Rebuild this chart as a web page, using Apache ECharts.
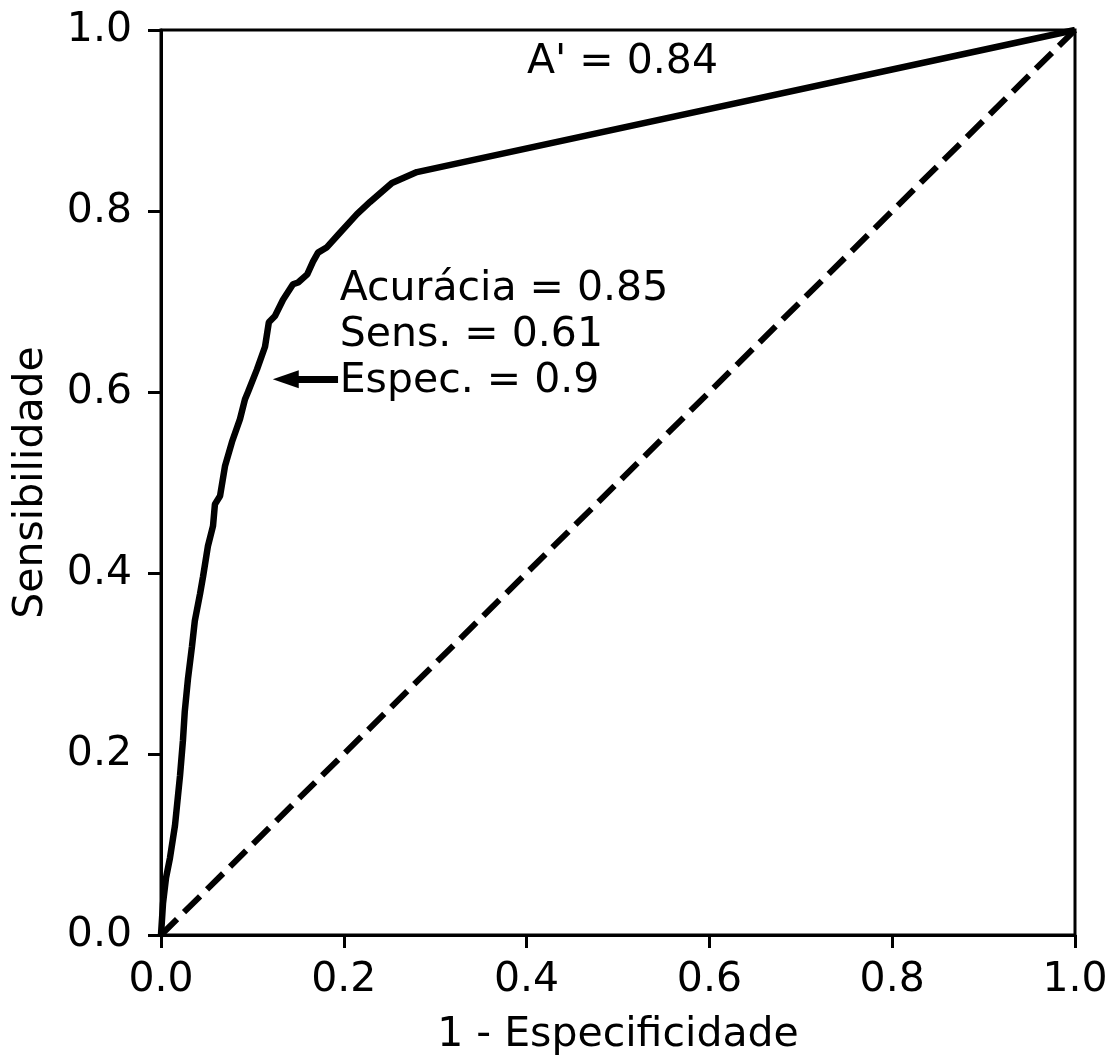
<!DOCTYPE html>
<html>
<head>
<meta charset="utf-8">
<script src="https://cdn.jsdelivr.net/npm/echarts@6/dist/echarts.min.js"></script>
<style>
  html, body { margin: 0; padding: 0; background: #fff; }
  #roc_chart { width: 1113px; height: 1061px; }
</style>
</head>
<body>
<div id="roc_chart"></div>
<script>
// curva ROC: [1 - especificidade, sensibilidade]
const fpr = [0, 0.0022, 0.0055, 0.0098, 0.0153, 0.0208, 0.024, 0.026, 0.0295, 0.0339, 0.037, 0.0427, 0.046, 0.0514, 0.0569, 0.059, 0.0646, 0.070, 0.0777, 0.0864, 0.0919, 0.0952, 0.105, 0.1138, 0.118, 0.1247, 0.1335, 0.1444, 0.150, 0.160, 0.1663, 0.1718, 0.1816, 0.1958, 0.2144, 0.2287, 0.2527, 0.280, 1];
const tpr = [0, 0.035, 0.063, 0.085, 0.121, 0.176, 0.215, 0.247, 0.283, 0.319, 0.347, 0.377, 0.396, 0.430, 0.452, 0.476, 0.485, 0.518, 0.545, 0.570, 0.592, 0.600, 0.625, 0.650, 0.677, 0.684, 0.702, 0.719, 0.721, 0.730, 0.744, 0.754, 0.760, 0.776, 0.7966, 0.810, 0.831, 0.843, 1];
const diagonal = [[0, 0], [1, 1]];
const aucText = "A' = 0.84";
const statsText = ["Acurácia = 0.85", "Sens. = 0.61", "Espec. = 0.9"];
// seta: a ponta do triângulo fica meia seta além do ponto final
const arrowFrom = [0.1937, 0.614];
const arrowTo = [0.1365, 0.614];

const font = "DejaVu Sans";
const chart = echarts.init(document.getElementById("roc_chart"));

const axisCommon = {
  type: "value",
  min: 0,
  max: 1,
  interval: 0.2,
  nameLocation: "middle",
  nameTextStyle: { fontFamily: font, fontSize: 41, color: "#000" },
  axisLine: { show: true, lineStyle: { color: "#000", width: 3 } },
  axisTick: { show: true, length: 13, lineStyle: { color: "#000", width: 3 } },
  axisLabel: {
    fontFamily: font, fontSize: 41, color: "#000",
    formatter: (v) => v.toFixed(1),
  },
  splitLine: { show: false },
};

const option = {
  animation: false,
  backgroundColor: "#fff",
  grid: {
    left: 161, right: 38, top: 30, bottom: 124,
    show: true, borderColor: "#000", borderWidth: 3,
  },
  xAxis: Object.assign({}, axisCommon, {
    name: "1 - Especificidade", nameGap: 80,
    axisLabel: Object.assign({}, axisCommon.axisLabel, { margin: 25 }),
  }),
  yAxis: Object.assign({}, axisCommon, {
    name: "Sensibilidade", nameGap: 109,
    axisLabel: Object.assign({}, axisCommon.axisLabel, { margin: 29 }),
  }),
  series: [
    {
      type: "line",
      data: diagonal,
      showSymbol: false,
      lineStyle: { color: "#000", width: 6, type: [22.6, 9.8] },
    },
    {
      type: "line",
      data: fpr.map((x, i) => [x, tpr[i]]),
      showSymbol: false,
      lineStyle: { color: "#000", width: 6.5 },
      markLine: {
        silent: true,
        symbol: ["none", "triangle"],
        symbolSize: [18, 26],
        lineStyle: { color: "#000", width: 7, type: "solid" },
        label: { show: false },
        data: [[{ coord: arrowFrom }, { coord: arrowTo }]],
      },
      markPoint: {
        symbol: "circle",
        symbolSize: 0,
        silent: true,
        label: {
          show: true, position: "inside", align: "left", verticalAlign: "middle",
          fontFamily: font, fontSize: 41, color: "#000", lineHeight: 46,
        },
        data: [
          { coord: [0.4004, 0.9647], label: { formatter: aucText } },
          { coord: [0.1955, 0.6626], label: { formatter: statsText.join("\n") } },
        ],
      },
    },
  ],
};

chart.setOption(option);
</script>
</body>
</html>
